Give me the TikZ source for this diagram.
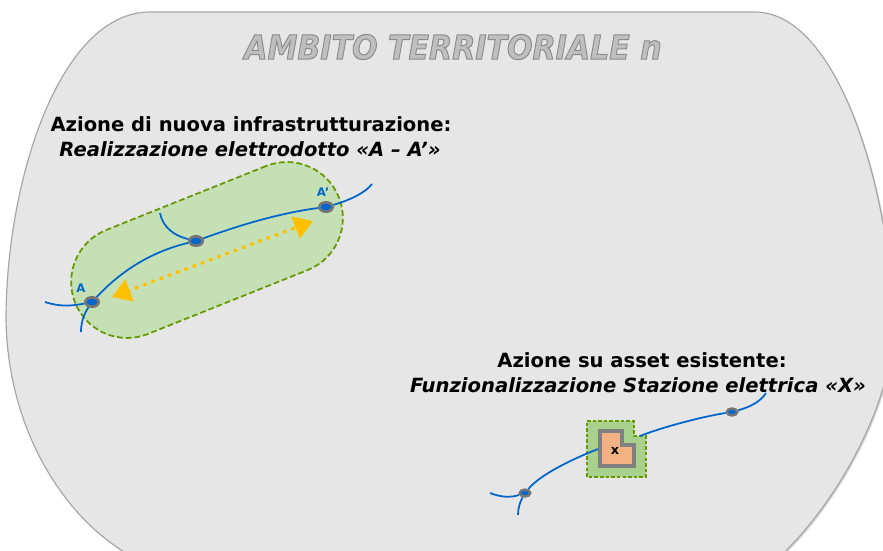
\documentclass[tikz,border=0pt]{standalone}
\usepackage{fontspec}
\setmainfont{DejaVu Sans}
\usetikzlibrary{shapes.geometric, arrows.meta, shadows}

\definecolor{regionfill}{HTML}{E6E6E6}
\definecolor{regionline}{HTML}{A6A6A6}
\definecolor{corridorfill}{HTML}{C5E0B4}
\definecolor{corridorline}{HTML}{669900}
\definecolor{stationfill}{HTML}{A9D18E}
\definecolor{linkblue}{HTML}{0066CC}
\definecolor{ringgray}{HTML}{767676}
\definecolor{arrowgold}{HTML}{FFC000}
\definecolor{assetfill}{HTML}{F4B183}
\definecolor{titlefill}{HTML}{BFBFBF}

% outlined glyphs for the title
\newcommand{\outlined}[1]{\special{pdf:literal direct 2 Tr 0.9 w 0.55 0.55 0.55 RG}#1\special{pdf:literal direct 0 Tr}}

\begin{document}
\begin{tikzpicture}[
    x=0.03cm, y=-0.03cm,
    heading/.style={font=\fontsize{16.7}{20}\selectfont\bfseries, inner sep=0pt},
    headingit/.style={heading, font=\fontsize{16.7}{20}\selectfont\bfseries\itshape},
    title/.style={font=\fontsize{28.5}{32}\selectfont\bfseries\itshape, text=titlefill, inner sep=0pt, xscale=0.9, transform shape},
    substation/.style={ellipse, draw=ringgray, line width=2.3pt, fill=linkblue, minimum width=0.4cm, minimum height=0.28cm, inner sep=0pt,
        drop shadow={opacity=0.3, shadow xshift=0.6pt, shadow yshift=-0.6pt}},
    small substation/.style={substation, line width=2pt, minimum width=0.32cm, minimum height=0.21cm},
    link/.style={draw=linkblue, line width=1.5pt},
    pointlabel/.style={font=\fontsize{10}{11}\selectfont\bfseries, text=linkblue, inner sep=0pt},
    corridor/.style={rectangle, draw=corridorline, fill=corridorfill, line width=1.5pt, dash pattern=on 5pt off 2.5pt,
        minimum width=8.52cm, minimum height=3.36cm, rounded corners=1.68cm, inner sep=0pt},
    flowarrow/.style={draw=arrowgold, line width=3.4pt, line cap=round, dash pattern=on 0pt off 7.5pt,
        {Triangle[length=0.56cm, width=0.68cm]}-{Triangle[length=0.56cm, width=0.68cm]}}
]
\useasboundingbox (0,0) rectangle (883,550);

% territorial area
\begin{scope}
\clip (0,0) rectangle (883,550);
\path[draw=regionline, fill=regionfill, line width=1pt, drop shadow={opacity=0.35, shadow xshift=1.2pt, shadow yshift=-1.2pt}]
    (150,12) -- (755,12) .. controls (840,12) and (893,200) .. (893,330)
    .. controls (890,420) and (820,525) .. (770,565) -- (150,565)
    .. controls (75,535) and (8,440) .. (6,320)
    .. controls (6,180) and (60,12) .. (150,12) -- cycle;
\end{scope}

\node[title] (ambito) at (453,47) {\outlined{AMBITO TERRITORIALE n}};

% new power line
\node[heading] (newHead) at (251,124) {Azione di nuova infrastrutturazione:};
\node[headingit] (newSub) at (250,149) {Realizzazione elettrodotto «A – A’»};

\node[corridor, rotate=21.8] (corridor) at (207,250) {};

\node[substation] (sA) at (92,302) {};
\node[substation] (sM) at (196,241) {};
\node[substation] (sAp) at (326,207) {};
\node[pointlabel] (labA) at (81,288) {A};
\node[pointlabel] (labAp) at (323,192) {A’};

\coordinate (aW) at (45,302);
\coordinate (aS) at (81,332);
\coordinate (mN) at (160,213);
\coordinate (apE) at (372,184);
\draw[link] (aW) .. controls (60,307) and (72,306) .. (sA);
\draw[link] (sA) .. controls (84,314) and (81,322) .. (aS);
\draw[link] (sA) .. controls (120,272) and (150,252) .. (sM);
\draw[link] (mN) .. controls (163,228) and (175,236) .. (sM);
\draw[link] (sM) .. controls (240,225) and (280,213) .. (sAp);
\draw[link] (sAp) .. controls (350,200) and (365,193) .. (apE);

\coordinate (arrL) at (112,297);
\coordinate (arrR) at (313,221);
\draw[flowarrow] (arrL) -- (arrR);

% existing asset
\node[heading] (assetHead) at (642,360) {Azione su asset esistente:};
\node[headingit] (assetSub) at (638,385) {Funzionalizzazione Stazione elettrica «X»};

\draw[draw=corridorline, fill=stationfill, line width=1.2pt, dash pattern=on 3pt off 1.8pt]
    (587,421) -- (634,421) -- (634,436) -- (646,436) -- (646,477) -- (587,477) -- cycle;
\draw[draw=gray, fill=assetfill, line width=2.6pt, drop shadow={opacity=0.35, shadow xshift=0.9pt, shadow yshift=-0.9pt}]
    (600,431) -- (622,431) -- (622,445) -- (634,445) -- (634,466) -- (600,466) -- cycle;
\node[font=\fontsize{11}{12}\selectfont\bfseries, inner sep=0pt] (assetX) at (615,451) {x};

\node[small substation] (sX1) at (525,493) {};
\node[small substation] (sX2) at (732,412) {};

\coordinate (xIn) at (598,449);
\coordinate (xOut) at (640,436);
\coordinate (x1W) at (490,493);
\coordinate (x1S) at (518,515);
\coordinate (x2N) at (766,393);
\draw[link] (sX1) .. controls (540,475) and (570,460) .. (xIn);
\draw[link] (xOut) .. controls (660,428) and (700,417) .. (sX2);
\draw[link] (sX2) .. controls (750,407) and (760,402) .. (x2N);
\draw[link] (x1W) .. controls (500,497) and (510,498) .. (sX1);
\draw[link] (sX1) .. controls (520,502) and (518,508) .. (x1S);
\end{tikzpicture}
\end{document}
